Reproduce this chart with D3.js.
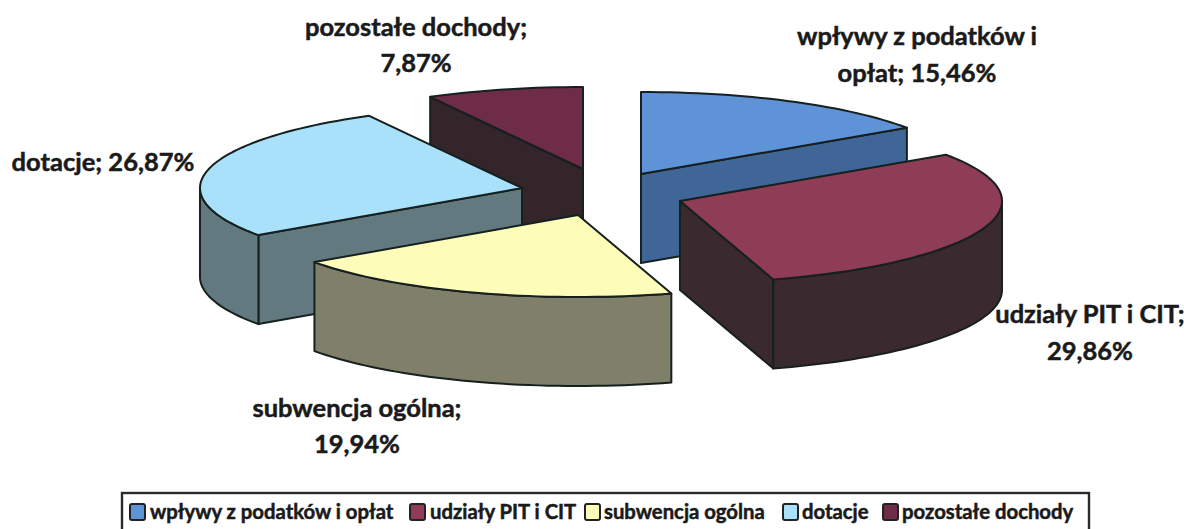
<!DOCTYPE html>
<html><head><meta charset="utf-8">
<script src="https://cdn.jsdelivr.net/npm/d3@7"></script>
<style>html,body{margin:0;background:#fff}svg{display:block}text{font-family:Lato,"Open Sans",sans-serif;font-weight:700;fill:#1a1a1a;stroke:#1a1a1a;stroke-width:.5px}</style>
</head><body><svg id="c" width="1184" height="529"></svg>
<script>
const categories=["wpływy z podatków i opłat","udziały PIT i CIT","subwencja ogólna","dotacje","pozostałe dochody"];
const values=[15.46,29.86,19.94,26.87,7.87];
const labelLines=[["wpływy z podatków i","opłat; 15,46%"],["udziały PIT i CIT;","29,86%"],["subwencja ogólna;","19,94%"],["dotacje; 26,87%"],["pozostałe dochody;","7,87%"]];
const topColors=["#5f93d8","#8f3c56","#fdfdb9","#a9e1fb","#6f2c49"];
const sideColors=["#3f6696","#3a2a2f","#80806a","#62797f","#33252a"];

const RX=322,RY=82,DEPTH=89;
const centers=[[641,174],[680,201],[578,215],[522,188],[583,169]];
const labelX=[917,1090,357,103,416];
const labelY=[[45,82],[323,360],[417,453],[171],[36,72]];
const swatchX=[129,409,584,782,882];
const legendTextX=[150,430,604,802,902];

const svg=d3.select("#c");
const arcs=d3.pie().sort(null).value(d=>d)(values);
const STROKE="#16201f";
const line=d3.line();
const pt=(c,a,dz=0)=>[c[0]+RX*Math.sin(a),c[1]-RY*Math.cos(a)+dz];
function arcPts(c,a0,a1,dz=0){
  const n=Math.max(2,Math.ceil((a1-a0)/0.03));
  return d3.range(n+1).map(i=>pt(c,a0+(a1-a0)*i/n,dz));
}
const H=Math.PI/2,TH=3*Math.PI/2;
[4,0,3,1,2].forEach(i=>{
  const {startAngle:a0,endAngle:a1}=arcs[i],c=centers[i];
  const g=svg.append("g");
  const face=(pts,fill)=>g.append("path").attr("d",line(pts)+"Z").attr("fill",fill)
    .attr("stroke",STROKE).attr("stroke-width",2).attr("stroke-linejoin","round");
  const bottom=[c[0],c[1]+DEPTH];
  if(Math.sin(a0)<-1e-6){const p=pt(c,a0);face([c,p,[p[0],p[1]+DEPTH],bottom],sideColors[i]);}
  if(Math.sin(a1)>1e-6){const p=pt(c,a1);face([c,p,[p[0],p[1]+DEPTH],bottom],sideColors[i]);}
  const w0=Math.max(a0,H),w1=Math.min(a1,TH);
  if(w1>w0)face(arcPts(c,w0,w1).concat(arcPts(c,w0,w1,DEPTH).reverse()),sideColors[i]);
  face([c].concat(arcPts(c,a0,a1)),topColors[i]);
});
labelLines.forEach((lines,i)=>lines.forEach((t,j)=>{
  svg.append("text").attr("x",labelX[i]).attr("y",labelY[i][j]).attr("text-anchor","middle").attr("font-size",25.5).text(t);
}));
svg.append("rect").attr("x",122).attr("y",493).attr("width",967).attr("height",40)
  .attr("fill","#fff").attr("stroke","#2a2a2a").attr("stroke-width",2.4);
categories.forEach((t,i)=>{
  svg.append("rect").attr("x",swatchX[i]+1).attr("y",504).attr("width",15).attr("height",16)
    .attr("rx",2).attr("fill",topColors[i]).attr("stroke","#222").attr("stroke-width",2);
  svg.append("text").attr("x",legendTextX[i]).attr("y",518.5).attr("font-size",20.3).text(t);
});
</script></body></html>
